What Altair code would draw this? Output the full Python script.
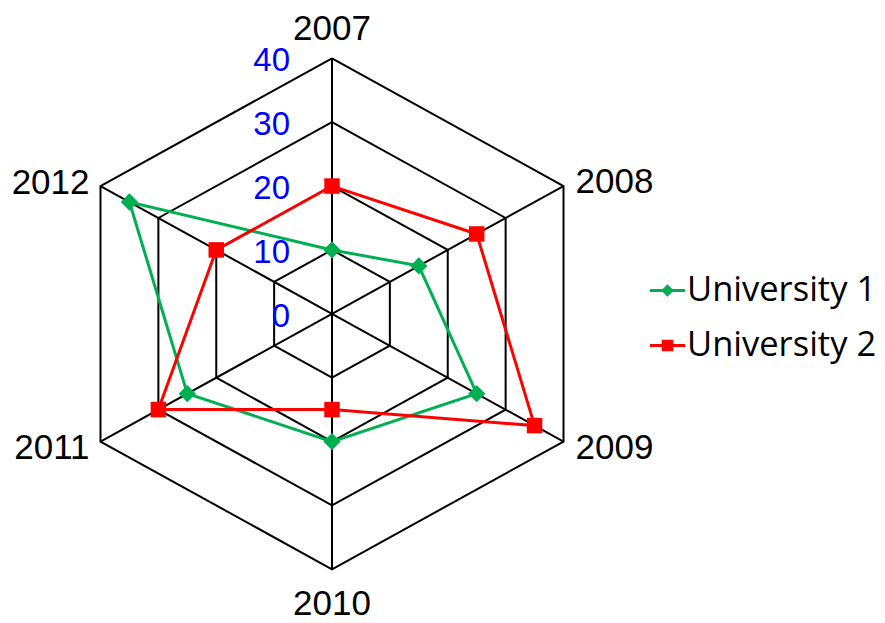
import altair as alt
import pandas as pd

# ---------------- data ----------------
years = ["2007", "2008", "2009", "2010", "2011", "2012"]
uni1 = [10, 15, 25, 20, 25, 35]
uni2 = [20, 25, 35, 15, 30, 20]
ticks = [0, 10, 20, 30, 40]
rings = [10, 20, 30, 40]
series_names = ["University 1", "University 2"]
series_colors = ["#00B050", "#FF0000"]
rmax = 40

# ---------------- tables built from the arrays ----------------
n = len(years)
series_rows = []
for name, vals in zip(series_names, [uni1, uni2]):
    for i in range(n + 1):
        series_rows.append({"series": name, "year": years[i % n], "idx": i, "r": vals[i % n]})
series_df = pd.DataFrame(series_rows)

ring_df = pd.DataFrame([{"level": lv, "idx": i, "r": lv} for lv in rings for i in range(n + 1)])
spoke_df = pd.DataFrame([{"spoke": i, "idx": i, "r": rr} for i in range(n) for rr in (0, rmax)])
year_df = pd.DataFrame([{"year": y, "idx": i, "r": rmax} for i, y in enumerate(years)])
tick_df = pd.DataFrame([{"label": str(t), "idx": 0, "r": t} for t in ticks])

# ---------------- geometry of the view ----------------
W, H = 869, 615
cx, cy = 324.0, 305.8          # centre of the radar in view pixels
sx = 231.5 / (0.8660254 * 40)  # px per unit horizontally
sy = 255.5 / 40                # px per unit vertically
xdom = [-cx / sx, (W - cx) / sx]
ydom = [-(H - cy) / sy, cy / sy]

X = alt.X("x:Q", scale=alt.Scale(domain=xdom, nice=False, zero=False), axis=None)
Y = alt.Y("y:Q", scale=alt.Scale(domain=ydom, nice=False, zero=False), axis=None)

def polar(ch):
    return ch.transform_calculate(
        x="datum.r * sin(datum.idx * PI / 3)",
        y="datum.r * cos(datum.idx * PI / 3)",
    )

FONT = "Liberation Sans"
LEGFONT = "Open Sans"

grid = polar(alt.Chart(ring_df)).mark_line(color="black", strokeWidth=2).encode(
    x=X, y=Y, detail="level:N", order="idx:Q")
spokes = polar(alt.Chart(spoke_df)).mark_line(color="black", strokeWidth=2).encode(
    x=X, y=Y, detail="spoke:N", order="r:Q")

layers = [grid, spokes]
shapes = ["diamond", "square"]
msizes = [300, 240]
for name, col, shp, ms in zip(series_names, series_colors, shapes, msizes):
    base = polar(alt.Chart(series_df)).transform_filter(alt.datum.series == name)
    layers.append(base.mark_line(color=col, strokeWidth=3).encode(x=X, y=Y, order="idx:Q"))
    layers.append(base.transform_filter(alt.datum.idx < n).mark_point(
        shape=shp, filled=True, color=col, size=ms, opacity=1).encode(x=X, y=Y))

# year labels
label_specs = [
    (0, "center", 0, -18),
    (1, "left", 12, 7),
    (2, "left", 12, 17),
    (3, "center", 0, 46),
    (4, "right", -11, 17),
    (5, "right", -11, 8),
]
for idx, al, dx, dy in label_specs:
    layers.append(
        polar(alt.Chart(year_df)).transform_filter(alt.datum.idx == idx).mark_text(
            align=al, baseline="alphabetic", dx=dx, dy=dy, font=FONT, fontSize=35, color="black"
        ).encode(x=X, y=Y, text="year:N")
    )

# radial tick labels
layers.append(
    polar(alt.Chart(tick_df)).mark_text(
        align="right", baseline="alphabetic", dx=-42, dy=13, font=FONT, fontSize=33, color="#0000FF"
    ).encode(x=X, y=Y, text="label:N")
)

# legend (scale-driven, no marks drawn)
path1 = "M-1,-0.085H1V0.085H-1Z M0,-0.36L0.36,0L0,0.36L-0.36,0Z"
path2 = "M-1,-0.085H1V0.085H-1Z M-0.33,-0.33H0.33V0.33H-0.33Z"
leg = dict(orient="none", legendX=642, legendY=265, title=None, padding=0,
           labelFont=LEGFONT, labelFontSize=34.5, labelColor="black", labelLimit=400,
           labelOffset=2, symbolSize=1225, symbolStrokeWidth=0, rowPadding=20)
legend_layer = alt.Chart(series_df).transform_filter("false").mark_point(
    filled=True, size=1225, opacity=1).encode(
    color=alt.Color("series:N", scale=alt.Scale(domain=series_names, range=series_colors),
                    legend=alt.Legend(**leg)),
    shape=alt.Shape("series:N", scale=alt.Scale(domain=series_names, range=[path1, path2]),
                    legend=alt.Legend(**leg)),
)
layers.append(legend_layer)

chart = alt.layer(*layers).properties(
    width=W, height=H, padding=0, autosize="none"
).configure_view(stroke=None)

chart.save("out.html", embed_options={"renderer": "svg", "actions": False})
